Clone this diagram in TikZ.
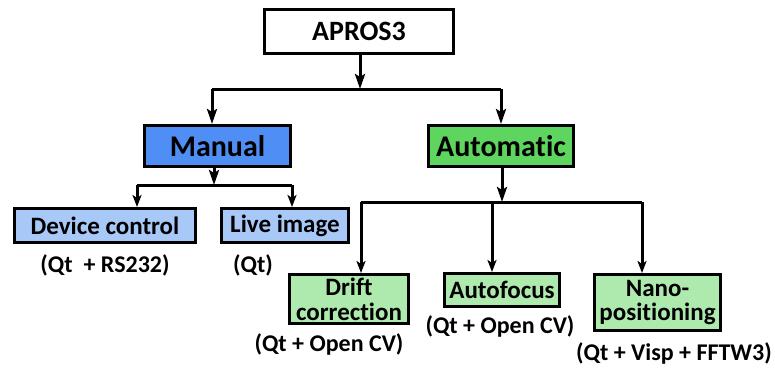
\documentclass[tikz,border=0pt]{standalone}
\usepackage{fontspec}
\setmainfont{Carlito}[Ligatures={NoCommon,NoRequired,NoContextual}]
\usetikzlibrary{arrows.meta}
\definecolor{manblue}{HTML}{4F8FF5}
\definecolor{liteblue}{HTML}{A8C8F8}
\definecolor{autogreen}{HTML}{5ED55E}
\definecolor{litegreen}{HTML}{AEE9AE}
\tikzset{
  box/.style={draw=black, line width=3pt, inner sep=0pt, align=center, font=\bfseries},
  lbl/.style={inner sep=0pt, font=\fontsize{24}{24}\selectfont\bfseries},
  conn/.style={line width=3pt},
  arr/.style={line width=3pt, -{Stealth[length=15pt,width=10pt,inset=3pt]}},
  arrs/.style={line width=3pt, -{Stealth[length=12pt,width=9pt,inset=3pt]}}
}
\begin{document}
\begin{tikzpicture}[x=1pt,y=-1pt]
\useasboundingbox (0,0) rectangle (775,367);
% nodes
\node[box, fill=white, minimum width=189pt, minimum height=44pt, font=\fontsize{28}{28}\selectfont\bfseries] (top) at (359,31.5) {APROS3};
\node[box, fill=manblue, minimum width=146pt, minimum height=41pt, font=\fontsize{30}{30}\selectfont\bfseries] (man) at (217.5,146) {Manual};
\node[box, fill=autogreen, minimum width=145pt, minimum height=41pt, font=\fontsize{30}{30}\selectfont\bfseries] (aut) at (501,146) {Automatic};
\node[box, fill=liteblue, minimum width=181pt, minimum height=34pt, font=\fontsize{25}{25}\selectfont\bfseries] (dev) at (105,225.5) {Device control};
\node[box, fill=liteblue, minimum width=127pt, minimum height=34pt, font=\fontsize{25}{25}\selectfont\bfseries] (live) at (285,225.5) {Live image};
\node[box, fill=litegreen, minimum width=119pt, minimum height=49pt, font=\fontsize{25}{25}\selectfont\bfseries] (drift) at (349,299) {Drift\\correction};
\node[box, fill=litegreen, minimum width=115pt, minimum height=33pt, font=\fontsize{25}{25}\selectfont\bfseries] (af) at (502,290) {Autofocus};
\node[box, fill=litegreen, minimum width=126pt, minimum height=56pt, font=\fontsize{25}{24}\selectfont\bfseries] (nano) at (657.5,302.5) {Nano-\\positioning};
% labels
\node[lbl] (ldev) at (105,265) {(Qt\ \ + RS232)};
\node[lbl] (llive) at (253,265) {(Qt)};
\node[lbl] (ldrift) at (329,344) {(Qt + Open CV)};
\node[lbl] (laf) at (500,326) {(Qt + Open CV)};
\node[lbl] (lnano) at (674,353) {(Qt + Visp + FFTW3)};
% junction coordinates
\coordinate (j0) at (360,89);
\coordinate (jm) at (212,89);
\coordinate (ja) at (501,89);
\coordinate (k0) at (214,185);
\coordinate (kd) at (137,185);
\coordinate (kl) at (292,185);
\coordinate (q0) at (502,202);
\coordinate (qd) at (361,202);
\coordinate (qa) at (492,202);
\coordinate (qn) at (642,202);
% connectors level 1
\draw[conn] (jm) -- (ja);
\draw[arr] (top.south -| j0) -- (j0);
\draw[arr] (jm) -- (jm |- man.north);
\draw[arr] (ja) -- (ja |- aut.north);
% manual branch
\draw[conn] (kd) -- (kl);
\draw[arr] (man.south -| k0) -- (k0);
\draw[arrs] (kd) -- (kd |- dev.north);
\draw[arrs] (kl) -- (kl |- live.north);
% automatic branch
\draw[conn] (qd) -- (qn);
\draw[arr] (aut.south -| q0) -- (q0);
\draw[arrs] (qd) -- (qd |- drift.north);
\draw[arrs] (qa) -- (qa |- af.north);
\draw[arrs] (qn) -- (qn |- nano.north);
\end{tikzpicture}
\end{document}
